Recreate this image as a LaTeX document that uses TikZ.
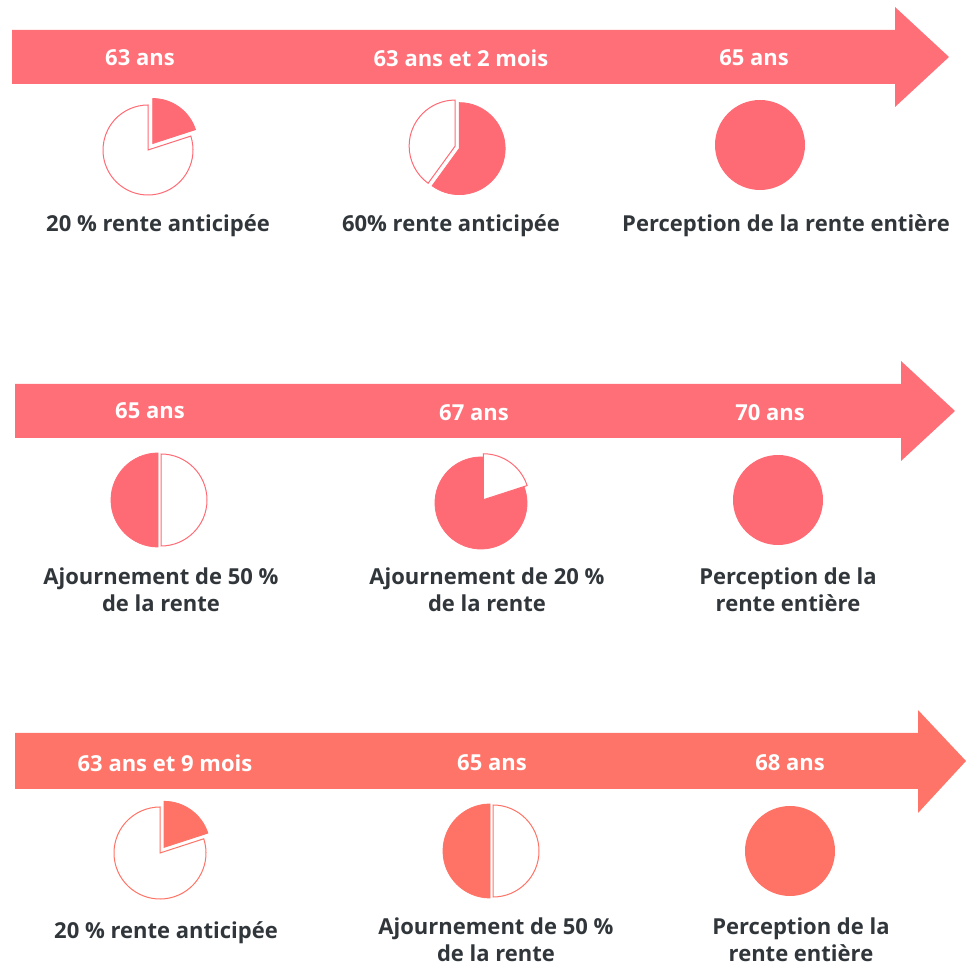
\documentclass[tikz,border=0pt]{standalone}
\usepackage{fontspec}
\setmainfont{Open Sans}
\usetikzlibrary{calc}
\definecolor{arrowA}{HTML}{FF6F78}
\definecolor{arrowB}{HTML}{FF7468}
\definecolor{pieA}{HTML}{FF6B75}
\definecolor{pieB}{HTML}{FF7366}
\definecolor{txt}{HTML}{31363B}
\tikzset{
  lbl/.style={text=white,font=\bfseries\fontsize{22}{26}\selectfont,inner sep=0pt},
  captxt/.style={text=txt,font=\bfseries\fontsize{22}{27}\selectfont,align=center,inner sep=0pt},
  piefillA/.style={fill=pieA,draw=pieA,line width=0.8pt},
  piefillB/.style={fill=pieB,draw=pieB,line width=0.8pt},
  pieemptyA/.style={fill=white,draw=pieA,line width=1pt},
  pieemptyB/.style={fill=white,draw=pieB,line width=1pt},
}
\begin{document}
\begin{tikzpicture}[x=1pt,y=1pt]
\useasboundingbox (0,0) rectangle (966,967);
% ---------- arrows
\fill[arrowA] (12,937) -- (895,937) -- (895,960) -- (949,910) -- (895,860) -- (895,883) -- (12,883) -- cycle;
\fill[arrowA] (15,583) -- (901,583) -- (901,606) -- (955,556) -- (901,506) -- (901,529) -- (15,529) -- cycle;
\fill[arrowB] (15,234) -- (918,234) -- (918,257) -- (966,206) -- (918,154) -- (918,178) -- (15,178) -- cycle;
% ---------- arrow labels
\node[lbl] (a1) at (140,909) {63 ans};
\node[lbl] (a2) at (461,909) {63 ans et 2 mois};
\node[lbl] (a3) at (754,909) {65 ans};
\node[lbl] (b1) at (150,556) {65 ans};
\node[lbl] (b2) at (474,554) {67 ans};
\node[lbl] (b3) at (770,554) {70 ans};
\node[lbl] (c1) at (165,204) {63 ans et 9 mois};
\node[lbl] (c2) at (492,204) {65 ans};
\node[lbl] (c3) at (790,204) {68 ans};
% ---------- row 1 pies
\draw[pieemptyA] (148,817) -- ++(18:45) arc (18:-270:45) -- cycle;
\draw[piefillA] ($(148,817)+(54:8)$) -- ++(90:45) arc (90:18:45) -- cycle;
\draw[piefillA] ($(458,820)+(-54:2)$) -- ++(90:46) arc (90:-126:46) -- cycle;
\draw[pieemptyA] ($(458,820)+(162:3)$) -- ++(90:46) arc (90:234:46) -- cycle;
\fill[pieA] (760,822) circle (45);
% ---------- row 2 pies
\draw[piefillA] (158,467) -- ++(90:47) arc (90:270:47) -- cycle;
\draw[pieemptyA] (161,467) -- ++(-90:46) arc (-90:90:46) -- cycle;
\draw[piefillA] (481,464) -- ++(18:46) arc (18:450:46) -- cycle;
\draw[pieemptyA] ($(481,464)+(54:4)$) -- ++(90:46) arc (90:18:46) -- cycle;
\fill[pieA] (778,467) circle (45);
% ---------- row 3 pies
\draw[pieemptyB] (160,114) -- ++(18:46) arc (18:-270:46) -- cycle;
\draw[piefillB] ($(160,114)+(54:7)$) -- ++(90:46) arc (90:18:46) -- cycle;
\draw[piefillB] (490,116) -- ++(90:47) arc (90:270:47) -- cycle;
\draw[pieemptyB] (493,116) -- ++(-90:46) arc (-90:90:46) -- cycle;
\fill[pieB] (790,116) circle (45);
% ---------- captions
\node[captxt] (t1) at (158,741) {20 \% rente anticipée};
\node[captxt] (t2) at (451,741) {60\% rente anticipée};
\node[captxt] (t3) at (786,741) {Perception de la rente entière};
\node[captxt] (u1) at (161,377) {Ajournement de 50 \%\\de la rente};
\node[captxt] (u2) at (487,377) {Ajournement de 20 \%\\de la rente};
\node[captxt] (u3) at (788,377) {Perception de la\\rente entière};
\node[captxt] (v1) at (166,34) {20 \% rente anticipée};
\node[captxt] (v2) at (496,27) {Ajournement de 50 \%\\de la rente};
\node[captxt] (v3) at (801,27) {Perception de la\\rente entière};
\end{tikzpicture}
\end{document}
